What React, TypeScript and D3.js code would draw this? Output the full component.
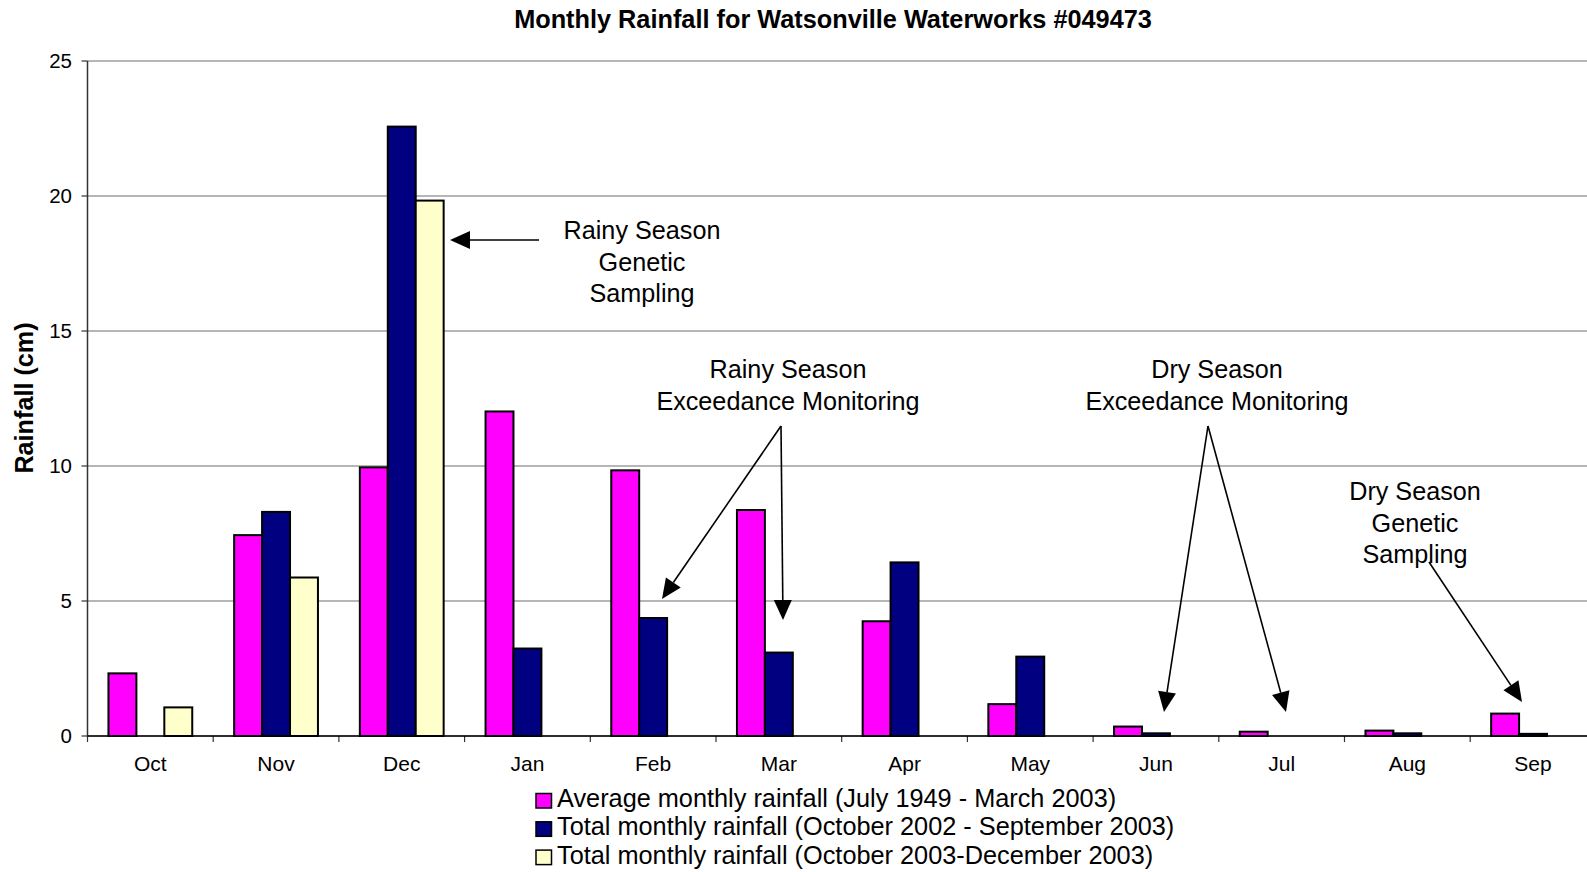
import React from "react";
import * as d3 from "d3";

const months = ["Oct", "Nov", "Dec", "Jan", "Feb", "Mar", "Apr", "May", "Jun", "Jul", "Aug", "Sep"];
const avgRain = [2.32, 7.44, 9.95, 12.02, 9.84, 8.37, 4.25, 1.18, 0.35, 0.16, 0.2, 0.83];
const total0203 = [null, 8.3, 22.57, 3.24, 4.37, 3.09, 6.43, 2.94, 0.1, null, 0.1, 0.08];
const total0303 = [1.06, 5.87, 19.83, null, null, null, null, null, null, null, null, null];
const seriesNames = [
  "Average monthly rainfall (July 1949 - March 2003)",
  "Total monthly rainfall (October 2002 - September 2003)",
  "Total monthly rainfall (October 2003-December 2003)",
];
const seriesColors = ["#FF00FF", "#000080", "#FFFFCC"];
const yTicks = [0, 5, 10, 15, 20, 25];

const annotations = [
  { lines: ["Rainy Season", "Genetic", "Sampling"], x: 642, y: 239, arrows: [[[539, 240], [450, 240]]] },
  { lines: ["Rainy Season", "Exceedance Monitoring"], x: 788, y: 378, arrows: [[[781, 426], [662, 599]], [[781, 426], [783, 620]]] },
  { lines: ["Dry Season", "Exceedance Monitoring"], x: 1217, y: 378, arrows: [[[1208, 426], [1164, 712]], [[1208, 426], [1286, 712]]] },
  { lines: ["Dry Season", "Genetic", "Sampling"], x: 1415, y: 500, arrows: [[[1429, 562], [1522, 702]]] },
];

const W = 1587;
const H = 872;
const left = 87.5;
const step = 125.7;
const right = left + 12 * step;
const top = 61;
const bottom = 736;

export default function App() {
  React.useEffect(() => {
    document.body.style.margin = "0";
  }, []);
  const x = d3.scaleBand<string>().domain(months).range([left, right]).paddingInner(0).paddingOuter(0);
  const xs = d3.scaleBand<string>().domain(["0", "1", "2"]).range([0, x.bandwidth()]).paddingInner(0).paddingOuter(0.75);
  const y = d3.scaleLinear().domain([0, 25]).range([bottom, top]);
  const series = [avgRain, total0203, total0303];
  const font = "'Liberation Sans', Arial, sans-serif";

  const arrowHead = (from: number[], to: number[]) => {
    const dx = to[0] - from[0];
    const dy = to[1] - from[1];
    const len = Math.hypot(dx, dy);
    const ux = dx / len, uy = dy / len;
    const L = 20, hw = 9;
    const bx = to[0] - ux * L, by = to[1] - uy * L;
    return {
      pts: `${to[0]},${to[1]} ${bx - uy * hw},${by + ux * hw} ${bx + uy * hw},${by - ux * hw}`,
      bx, by,
    };
  };

  return (
    <svg width={W} height={H} style={{ position: "absolute", left: 0, top: 0, background: "#fff" }} fontFamily={font}>
      <rect x={0} y={0} width={W} height={H} fill="#fff" />
      <text x={833} y={28} textAnchor="middle" fontWeight="bold" fontSize={25.3}>
        Monthly Rainfall for Watsonville Waterworks #049473
      </text>
      {yTicks.map((t) => (
        <g key={t}>
          <line x1={left} x2={right} y1={y(t)} y2={y(t)} stroke="#6e6e6e" strokeWidth={1.2} />
          <line x1={left - 6} x2={left} y1={y(t)} y2={y(t)} stroke="#333" strokeWidth={1.2} />
          <text x={72} y={y(t) + 7} textAnchor="end" fontSize={20.5}>{t}</text>
        </g>
      ))}
      <line x1={left} x2={left} y1={top} y2={bottom} stroke="#333" strokeWidth={1.5} />
      {months.map((m) => (
        <g key={m}>
          <line x1={x(m)!} x2={x(m)!} y1={bottom} y2={bottom + 6} stroke="#333" strokeWidth={1.2} />
          <text x={x(m)! + x.bandwidth() / 2} y={771} textAnchor="middle" fontSize={21}>{m}</text>
        </g>
      ))}
      {series.map((vals, si) =>
        vals.map((v, i) =>
          v == null || v === 0 ? null : (
            <rect
              key={`${si}-${i}`}
              x={x(months[i])! + xs(String(si))!}
              y={y(v)}
              width={xs.bandwidth()}
              height={bottom - y(v)}
              fill={seriesColors[si]}
              stroke="#000"
              strokeWidth={2}
            />
          )
        )
      )}
      <line x1={left} x2={right} y1={bottom} y2={bottom} stroke="#000" strokeWidth={1.5} />
      <text transform={`translate(33,398) rotate(-90)`} textAnchor="middle" fontWeight="bold" fontSize={25.2}>
        Rainfall (cm)
      </text>
      {annotations.map((a, ai) => (
        <g key={ai}>
          {a.lines.map((l, li) => (
            <text key={li} x={a.x} y={a.y + li * 31.5} textAnchor="middle" fontSize={25.2}>{l}</text>
          ))}
          {a.arrows.map(([from, to], k) => {
            const h = arrowHead(from, to);
            return (
              <g key={k}>
                <line x1={from[0]} y1={from[1]} x2={h.bx} y2={h.by} stroke="#000" strokeWidth={1.6} />
                <polygon points={h.pts} fill="#000" />
              </g>
            );
          })}
        </g>
      ))}
      {seriesNames.map((n, i) => (
        <g key={n}>
          <rect x={536} y={793.5 + i * 28.3} width={15.5} height={14.5} fill={seriesColors[i]} stroke="#000" strokeWidth={1.5} />
          <text x={557} y={807 + i * 28.3} fontSize={25.3}>{n}</text>
        </g>
      ))}
    </svg>
  );
}
